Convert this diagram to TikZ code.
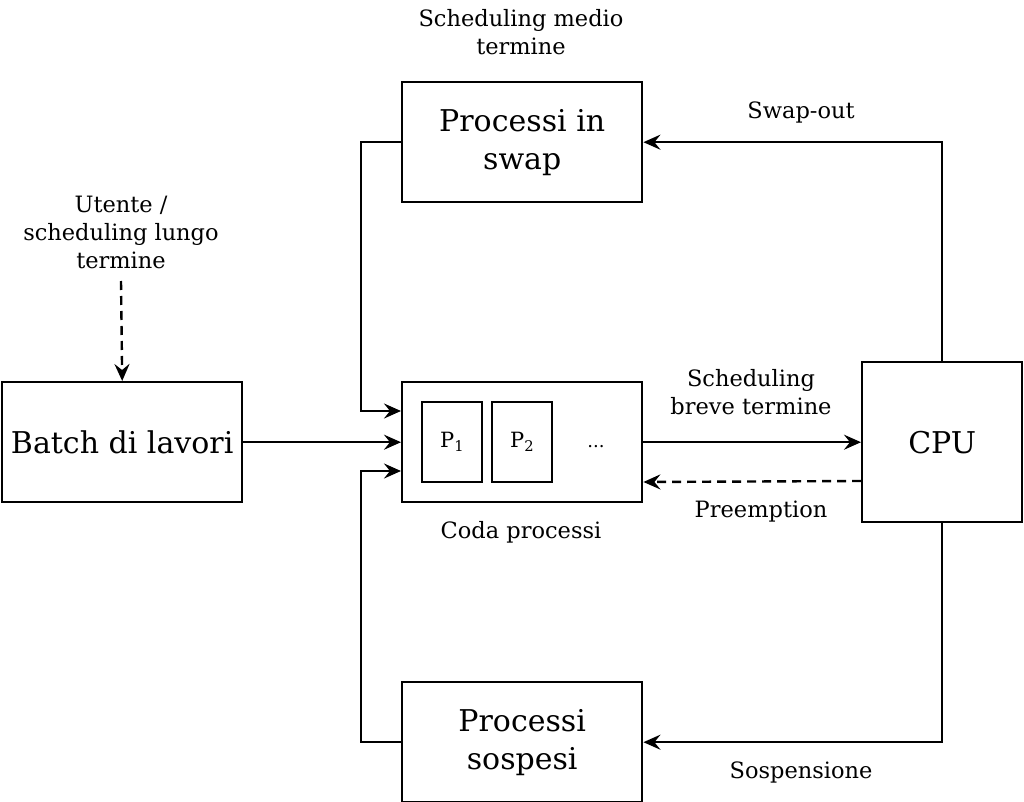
\documentclass[tikz,border=0pt]{standalone}
\usepackage{fontspec}
\setmainfont{DejaVu Serif}
\usetikzlibrary{arrows.meta}
\begin{document}
\begin{tikzpicture}[x=1pt,y=-1pt,
  box/.style={draw,line width=2.4pt,inner sep=0pt,anchor=north west,align=center},
  bigtext/.style={font=\fontsize{30}{38}\selectfont},
  lbl/.style={align=center,font=\fontsize{22.5}{28}\selectfont,inner sep=0pt},
  small/.style={font=\fontsize{21}{24}\selectfont},
  conn/.style={line width=2.4pt,-{Stealth[length=17pt,width=15pt,inset=6pt]}},
  dconn/.style={conn,dash pattern=on 9pt off 6pt}]
\useasboundingbox (0,0) rectangle (1024,802);
% boxes
\node[box,bigtext,minimum width=240pt,minimum height=120pt] (batch) at (1,381) {Batch di lavori};
\node[box,minimum width=240pt,minimum height=120pt] (coda) at (401,381) {};
\node[box,small,minimum width=60pt,minimum height=80pt] (p1) at (421,401) {P\textsubscript{1}};
\node[box,small,minimum width=60pt,minimum height=80pt] (p2) at (491,401) {P\textsubscript{2}};
\node[font=\fontsize{18}{20}\selectfont,inner sep=0pt] (dots) at (596,447) {...};
\node[box,bigtext,minimum width=160pt,minimum height=160pt] (cpu) at (861,361) {CPU};
\node[box,bigtext,minimum width=240pt,minimum height=120pt] (swap) at (401,81) {Processi in\\swap};
\node[box,bigtext,minimum width=240pt,minimum height=120pt] (sosp) at (401,681) {Processi\\sospesi};
% labels
\node[lbl] (lmedio) at (521,32) {Scheduling medio\\termine};
\node[lbl] (lswap) at (801,112) {Swap-out};
\node[lbl] (lutente) at (121,232) {Utente /\\scheduling lungo\\termine};
\node[lbl] (lbreve) at (751,392) {Scheduling\\breve termine};
\node[lbl] (lpre) at (761,512) {Preemption};
\node[lbl] (lcoda) at (521,532) {Coda processi};
\node[lbl] (lsosp) at (801,772) {Sospensione};
% connectors
\coordinate (uttop) at (121,281);
\draw[dconn] (uttop) -- (batch.north);
\draw[conn] (batch.east) -- (coda.west);
\draw[conn] (coda.east) -- (cpu.west);
\draw[conn] (swap.west) -- ++(-40,0) |- ([yshift=-30pt]coda.north west);
\draw[conn] (sosp.west) -- ++(-40,0) |- ([yshift=-90pt]coda.north west);
\draw[conn] (cpu.north) |- (swap.east);
\draw[conn] (cpu.south) |- (sosp.east);
\draw[dconn] ([yshift=-120pt]cpu.north west) -- ([yshift=-101pt]coda.north east);
\end{tikzpicture}
\end{document}
